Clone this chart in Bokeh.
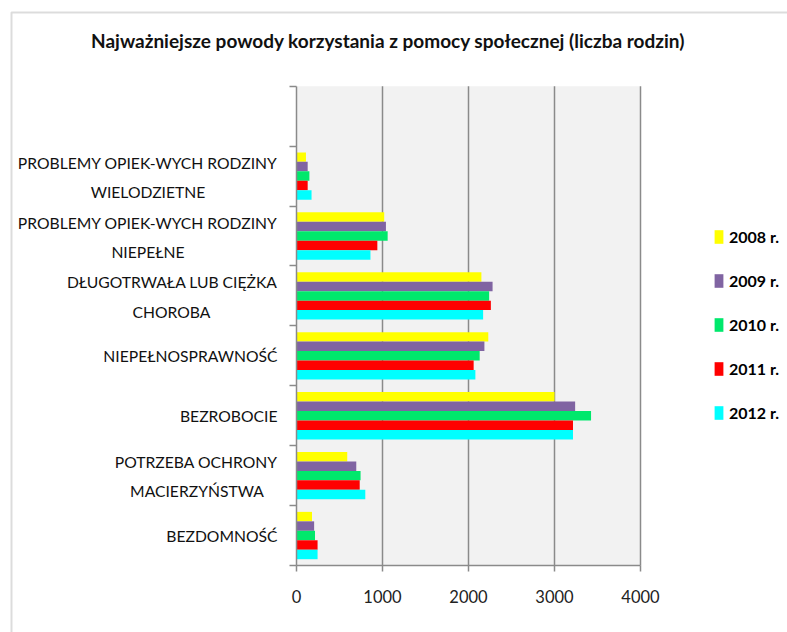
from bokeh.plotting import figure
from bokeh.models import Range1d, FixedTicker, BoxAnnotation, ColumnDataSource
from bokeh.core.properties import value
from bokeh.embed import file_html
from bokeh.resources import INLINE

# ---- data ----
title_text = "Najważniejsze powody korzystania z pomocy społecznej  (liczba rodzin)"
categories = [
    ["BEZDOMNOŚĆ"],
    ["POTRZEBA OCHRONY", "MACIERZYŃSTWA"],
    ["BEZROBOCIE"],
    ["NIEPEŁNOSPRAWNOŚĆ"],
    ["DŁUGOTRWAŁA LUB CIĘŻKA", "CHOROBA"],
    ["PROBLEMY OPIEK-WYCH RODZINY", "NIEPEŁNE"],
    ["PROBLEMY OPIEK-WYCH RODZINY", "WIELODZIETNE"],
]
series_names = ["2008 r.", "2009 r.", "2010 r.", "2011 r.", "2012 r."]
v2008 = [180, 590, 3000, 2230, 2150, 1020, 110]
v2009 = [205, 695, 3240, 2185, 2280, 1040, 130]
v2010 = [215, 745, 3425, 2130, 2240, 1060, 150]
v2011 = [245, 735, 3215, 2060, 2260, 940, 130]
v2012 = [245, 800, 3215, 2080, 2170, 860, 175]
x_ticks = [0, 1000, 2000, 3000, 4000]

series_values = [v2008, v2009, v2010, v2011, v2012]
colors = ["#FFFF00", "#8064A2", "#00E86C", "#FF0000", "#00FFFF"]

# ---- layout (page pixels) ----
W, H = 787, 632
PX_LEFT, PX_RIGHT = 296.0, 640.0      # x = 0 and x = 4000
PY_BOTTOM, PY_TOP = 565.0, 85.7       # y = 0 and top of the empty slot
n_slots = len(categories) + 1
X0, X1 = x_ticks[0], x_ticks[-1]
kx = (PX_RIGHT - PX_LEFT) / (X1 - X0)
ky = (PY_BOTTOM - PY_TOP) / n_slots

def dx(px):
    return X0 + (px - PX_LEFT) / kx

def dy(py):
    return (PY_BOTTOM - py) / ky

p = figure(width=W, height=H, output_backend="svg", toolbar_location=None,
           x_range=Range1d(dx(0), dx(W)), y_range=Range1d(dy(H), dy(0)),
           min_border=0)
p.background_fill_color = "white"
p.border_fill_color = "white"
p.outline_line_color = None
p.xgrid.visible = False
p.ygrid.visible = False

FONT = "Lato"
GRAY = "#8A8A8A"

# plot area background and grid lines
p.quad(left=X0, right=X1, bottom=0, top=n_slots, fill_color="#F2F2F2", line_color=None)
p.segment(x0=x_ticks[1:], y0=[0] * (len(x_ticks) - 1), x1=x_ticks[1:], y1=[n_slots] * (len(x_ticks) - 1),
          line_color=GRAY, line_width=1.5)

# bars
bar_h = 0.158
for j, (name, vals, col) in enumerate(zip(series_names, series_values, colors)):
    ys = [i + 0.5 + (2 - j) * bar_h for i in range(len(vals))]
    p.hbar(y=ys, right=vals, left=0, height=bar_h, fill_color=col, line_color=None,
           legend_label=name)

# axes (fixed inside the canvas-wide frame)
xa = p.xaxis[0]
xa.fixed_location = 0
xa.bounds = (X0, X1)
xa.ticker = FixedTicker(ticks=x_ticks)
xa.axis_line_color = GRAY
xa.axis_line_width = 1.5
xa.major_tick_line_color = GRAY
xa.major_tick_line_width = 1.5
xa.major_tick_out = 6
xa.major_tick_in = 0
xa.minor_tick_line_color = None
xa.major_label_text_font = FONT
xa.major_label_text_font_size = "16.5px"
xa.major_label_text_color = "#222222"
xa.major_label_standoff = 18

ya = p.yaxis[0]
ya.fixed_location = 0
ya.bounds = (0, n_slots)
ya.ticker = FixedTicker(ticks=[], minor_ticks=list(range(n_slots + 1)))
ya.axis_line_color = GRAY
ya.axis_line_width = 1.5
ya.major_tick_line_color = None
ya.minor_tick_line_color = GRAY
ya.minor_tick_line_width = 1.5
ya.minor_tick_out = 7
ya.minor_tick_in = 0

# category labels
line2_centers = {1: 196.5, 4: 171, 5: 147.5, 6: 147.5}
lx, ly, lt, la = [], [], [], []
for i, lines in enumerate(categories):
    if len(lines) == 1:
        lx.append(dx(277)); ly.append(i + 0.5); lt.append(lines[0]); la.append("right")
    else:
        lx.append(dx(277)); ly.append(i + 0.5 + 0.225); lt.append(lines[0]); la.append("right")
        lx.append(dx(line2_centers[i])); ly.append(i + 0.5 - 0.262); lt.append(lines[1]); la.append("center")
src = ColumnDataSource(dict(x=lx, y=ly, text=lt, align=la))
p.text(x="x", y="y", text="text", text_align="align", text_baseline="middle",
       text_font=value(FONT), text_font_size="15.7px", text_color="#111111", source=src)

# title
p.text(x=[dx(390)], y=[dy(40)], text=[title_text], text_align="center", text_baseline="middle",
       text_font=value(FONT), text_font_size="19px", text_font_style="bold", text_color="#111111")

# outer chart border (extends past the picture edges)
p.add_layout(BoxAnnotation(left=dx(11), right=dx(W + 50), top=dy(12), bottom=dy(H + 50),
                           fill_alpha=0, line_color=GRAY, line_width=2))

# legend
lg = p.legend[0]
lg.location = (713, 210)
lg.padding = 0
lg.margin = 0
lg.spacing = 25
lg.glyph_width = 11
lg.glyph_height = 17
lg.label_height = 17
lg.label_standoff = 5
lg.label_text_font = FONT
lg.label_text_font_style = "bold"
lg.label_text_font_size = "16px"
lg.label_text_color = "#000000"
lg.border_line_color = None
lg.background_fill_alpha = 0

open("out.html", "w").write(file_html(p, INLINE))
